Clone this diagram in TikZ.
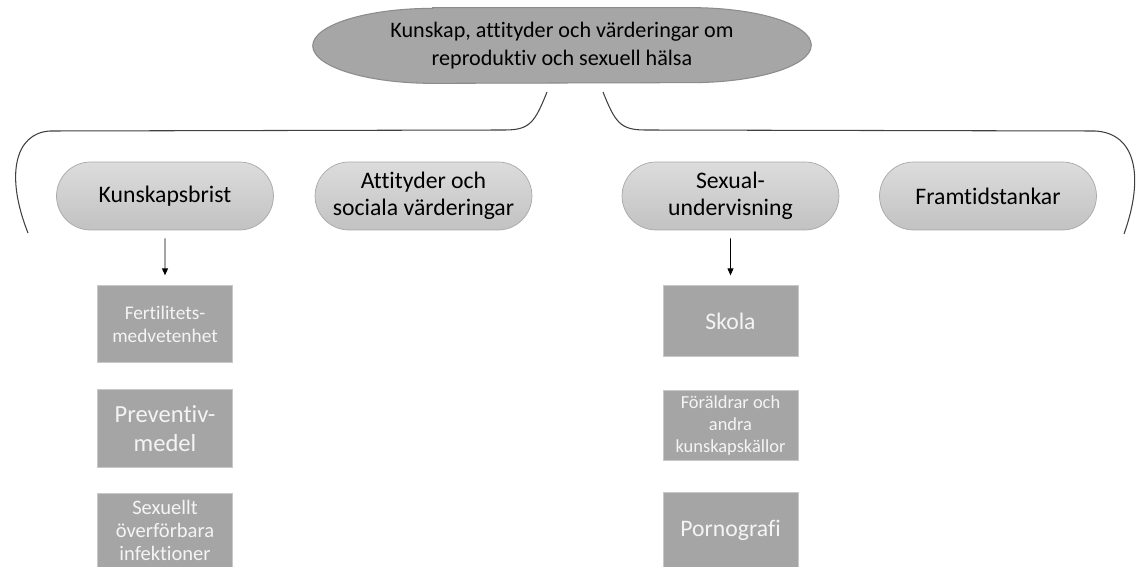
\documentclass[tikz,border=0pt]{standalone}
\usepackage{fontspec}
\setmainfont{Carlito}[Ligatures=NoCommon]
\usepackage{tikz}
\usetikzlibrary{shapes.misc, arrows.meta, positioning, calc, backgrounds}
\definecolor{topGray}{HTML}{A6A6A6}
\definecolor{topEdge}{HTML}{8C8C8C}
\definecolor{pillTop}{HTML}{DCDCDC}
\definecolor{pillBottom}{HTML}{C2C2C2}
\definecolor{pillEdge}{HTML}{A8A8A8}
\definecolor{boxGray}{HTML}{A5A5A5}
\definecolor{boxEdge}{HTML}{C8C8C8}
\definecolor{boxText}{HTML}{F4F4F4}
\definecolor{braceGray}{HTML}{404040}

\begin{document}
\begin{tikzpicture}[
    x=0.02cm, y=-0.02cm,
    toptext/.style={minimum width=9.96cm, minimum height=1.5cm, align=center, font=\fontsize{12.6}{16}\selectfont},
    pill/.style={rounded rectangle, draw=pillEdge, top color=pillTop, bottom color=pillBottom, minimum width=4.48cm, minimum height=1.36cm, align=center, font=\fontsize{13.5}{15.5}\selectfont, inner sep=2pt},
    sub/.style={rectangle, draw=boxEdge, fill=boxGray, text=boxText, minimum width=2.7cm, align=center, inner sep=1pt},
    brace/.style={draw=braceGray, line width=0.6pt},
    arrow/.style={-{Triangle[length=1.4mm, width=1.2mm]}, line width=0.5pt, shorten <=0.16cm, shorten >=0.2cm},
]
    \useasboundingbox (0,0) rectangle (1136,567);
    \clip (0,0) rectangle (1136,567);

    % Overall theme
    \node[toptext] (top) at (562,45.5) {Kunskap, attityder och värderingar om\\reproduktiv och sexuell hälsa};
    \begin{scope}[on background layer]
        \fill[white] (0,0) rectangle (1136,567);
        \filldraw[fill=topGray, draw=topEdge, line width=0.6pt]
            ($(top.north west)+(120,0)$) -- ($(top.north east)+(-120,0)$)
            arc[start angle=90, end angle=-90, x radius=2.4cm, y radius=0.75cm]
            -- ($(top.south west)+(120,0)$)
            arc[start angle=270, end angle=90, x radius=2.4cm, y radius=0.75cm] -- cycle;
    \end{scope}

    % Braces
    \draw[brace] (547,92) .. controls (535,122) and (530,130) .. (505,130) -- (50,131)
        .. controls (15,133) and (5,175) .. (28,233);
    \draw[brace] (603,92) .. controls (615,122) and (620,130) .. (645,130) -- (1095,131)
        .. controls (1135,133) and (1145,175) .. (1124,234);

    % Themes
    \node[pill] (kunskap) at (165,196) {Kunskapsbrist};
    \node[pill] (attityd) at (423.5,196) {Attityder och\\sociala värderingar};
    \node[pill] (sexual) at (730.5,196) {Sexual-\\undervisning};
    \node[pill] (framtid) at (988,196) {Framtidstankar};

    % Sub-themes, Kunskapsbrist
    \node[sub, below=1.1cm of kunskap, minimum height=1.54cm, font=\fontsize{11}{13}\selectfont] (fert) {Fertilitets-\\medvetenhet};
    \node[sub, below=0.52cm of fert, minimum height=1.56cm, font=\fontsize{14}{16.5}\selectfont] (prev) {Preventiv-\\medel};
    \node[sub, below=0.5cm of prev, minimum height=1.5cm, font=\fontsize{11.7}{13}\selectfont] (sti) {Sexuellt\\överförbara\\infektioner};

    % Sub-themes, Sexualundervisning
    \node[sub, below=1.1cm of sexual, minimum height=1.42cm, font=\fontsize{13.5}{16}\selectfont] (skola) {Skola};
    \node[sub, below=0.66cm of skola, minimum height=1.4cm, font=\fontsize{10.5}{12.5}\selectfont] (foraldrar) {Föräldrar och\\andra\\kunskapskällor};
    \node[sub, below=0.62cm of foraldrar, minimum height=1.54cm, font=\fontsize{13.5}{16}\selectfont] (porr) {Pornografi};

    % Arrows
    \draw[arrow] (kunskap) -- (fert);
    \draw[arrow] (sexual) -- (skola);
\end{tikzpicture}
\end{document}
